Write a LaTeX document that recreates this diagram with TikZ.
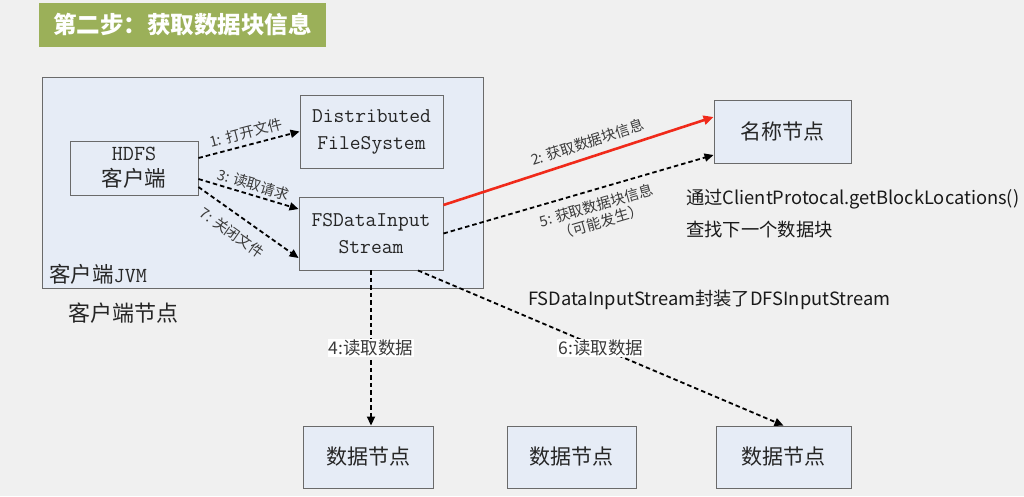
\documentclass[tikz,border=0pt]{standalone}
\usepackage{fontspec}
\newfontfamily\cjk{Noto Sans CJK SC}
\usetikzlibrary{arrows.meta}
\definecolor{bg}{HTML}{F0F0F0}
\definecolor{boxfill}{HTML}{E6ECF6}
\definecolor{boxline}{HTML}{6A6A6A}
\definecolor{titlegreen}{HTML}{9BB059}
\definecolor{lblgray}{HTML}{3A3A3A}
\definecolor{arrred}{HTML}{F02A1A}
\tikzset{
  box/.style={draw=boxline, fill=boxfill, line width=0.9pt, inner sep=0pt, align=center,
    text=black!85, font=\fontsize{20}{27}\selectfont},
  cjkbox/.style={box, font=\cjk\fontsize{21}{25}\selectfont},
  darrow/.style={draw=black, dash pattern=on 4.5pt off 3pt, line width=1.8pt,
    -{Triangle[length=9pt,width=8pt]}},
  rarrow/.style={draw=arrred, line width=2.6pt, -{Triangle[length=10pt,width=9pt]}},
  lbl/.style={font=\cjk\fontsize{14.5}{17}\selectfont, text=lblgray, inner sep=1pt, align=center},
  wlbl/.style={font=\cjk\fontsize{17.5}{20}\selectfont, text=lblgray, fill=white, inner sep=1pt},
  note/.style={font=\cjk\fontsize{18.3}{22}\selectfont, text=black!90, anchor=west, inner sep=0pt}
}
\begin{document}
\begin{tikzpicture}[x=1pt,y=-1pt]
\useasboundingbox[fill=bg] (0,0) rectangle (1024,496);
% title
\node[fill=titlegreen, minimum width=287pt, minimum height=44pt, inner sep=0pt,
  text=white, font=\cjk\bfseries\fontsize{23.5}{27}\selectfont] (title) at (182.5,25) {第二步：获取数据块信息};
% JVM area
\node[draw=boxline, fill=boxfill, line width=0.9pt, minimum width=441pt, minimum height=211pt, inner sep=0pt] (jvm) at (262.5,182.5) {};
\node[anchor=south west, inner sep=0pt, font=\fontsize{21.5}{24}\selectfont, text=black!85] (jvmlbl) at (49,285) {{\cjk 客户端}\ttfamily JVM};
\node[anchor=west, inner sep=0pt, font=\cjk\fontsize{22}{25}\selectfont, text=black!85] (clientnode) at (68,313) {客户端节点};
% boxes
\node[box, minimum width=128pt, minimum height=54pt, font=\fontsize{21.5}{26}\selectfont] (hdfs) at (134,168) {\ttfamily HDFS\\\cjk 客户端};
\node[box, minimum width=143pt, minimum height=73pt, font=\ttfamily\fontsize{21}{27}\selectfont] (dfs) at (371.5,131.5) {Distributed\\FileSystem};
\node[box, minimum width=144pt, minimum height=73pt, font=\ttfamily\fontsize{21}{27}\selectfont] (fsdis) at (371,233.5) {FSDataInput\\Stream};
\node[cjkbox, minimum width=137pt, minimum height=63pt] (nn) at (782.5,131.5) {名称节点};
\node[cjkbox, minimum width=130pt, minimum height=62pt] (dn1) at (368,457) {数据节点};
\node[cjkbox, minimum width=129pt, minimum height=62pt] (dn2) at (571.5,457) {数据节点};
\node[cjkbox, minimum width=135pt, minimum height=62pt] (dn3) at (783.5,457) {数据节点};
% notes
\node[note] (note1) at (686,199) {通过ClientProtocal.getBlockLocations()};
\node[note] (note2) at (686,230) {查找下一个数据块};
\node[note] (note3) at (528,300) {FSDataInputStream封装了DFSInputStream};
% connectors
\draw[darrow] ([yshift=10pt]hdfs.east) -- (dfs.west)
  node[lbl, midway, sloped, above=4pt] {1: 打开文件};
\draw[darrow] ([yshift=-11pt]hdfs.east) -- ([yshift=24.5pt]fsdis.west)
  node[lbl, pos=0.52, sloped, above=2pt] {3: 读取请求};
\draw[darrow] ([yshift=-19pt]hdfs.east) -- ([yshift=-24.5pt]fsdis.west)
  node[lbl, pos=0.44, sloped, below=9pt] {7: 关闭文件};
\draw[rarrow] ([yshift=28.5pt]fsdis.east) -- ([yshift=14.5pt]nn.west)
  node[lbl, pos=0.55, sloped, above=6pt] {2: 获取数据块信息};
\draw[darrow] (fsdis.east) -- ([yshift=-23.5pt]nn.west)
  node[lbl, pos=0.55, sloped, below=7pt] {5: 获取数据块信息\\（可能发生）};
\draw[darrow] (fsdis.south) -- (fsdis.south |- dn1.north)
  node[wlbl, midway] {4:读取数据};
\draw[darrow] ([xshift=47pt]fsdis.south) -- (dn3.north)
  node[wlbl, midway] {6:读取数据};
\end{tikzpicture}
\end{document}
